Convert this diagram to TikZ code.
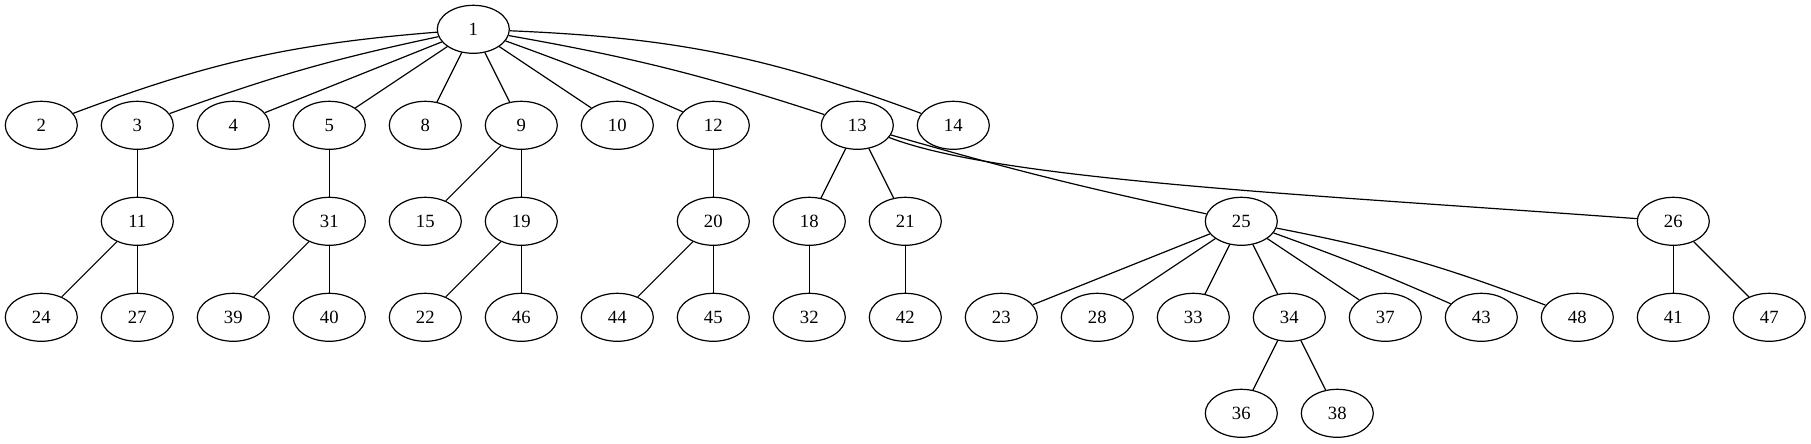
\documentclass[tikz,border=0pt]{standalone}
\usepackage{fontspec}
\setmainfont{Liberation Serif}
\usetikzlibrary{shapes.geometric}
\begin{document}
\begin{tikzpicture}[x=0.75pt,y=-0.75pt,
  vnode/.style={draw,ellipse,line width=0.9pt,minimum width=54pt,minimum height=36pt,inner sep=0pt,font=\fontsize{14}{16}\selectfont},
  edge/.style={line width=0.9pt}]
\useasboundingbox (0,0) rectangle (1811,443);
% row 1
\node[vnode] (n1) at (473.3,29.3) {1};
% row 2
\node[vnode] (n2) at (41.3,125.3) {2};
\node[vnode] (n3) at (137.3,125.3) {3};
\node[vnode] (n4) at (233.3,125.3) {4};
\node[vnode] (n5) at (329.3,125.3) {5};
\node[vnode] (n8) at (425.3,125.3) {8};
\node[vnode] (n9) at (521.3,125.3) {9};
\node[vnode] (n10) at (617.3,125.3) {10};
\node[vnode] (n12) at (713.3,125.3) {12};
\node[vnode] (n13) at (857.3,125.3) {13};
\node[vnode] (n14) at (953.3,125.3) {14};
% row 3
\node[vnode] (n11) at (137.3,221.3) {11};
\node[vnode] (n31) at (329.3,221.3) {31};
\node[vnode] (n15) at (425.3,221.3) {15};
\node[vnode] (n19) at (521.3,221.3) {19};
\node[vnode] (n20) at (713.3,221.3) {20};
\node[vnode] (n18) at (809.3,221.3) {18};
\node[vnode] (n21) at (905.3,221.3) {21};
\node[vnode] (n25) at (1241.3,221.3) {25};
\node[vnode] (n26) at (1673.3,221.3) {26};
% row 4
\node[vnode] (n24) at (41.3,317.3) {24};
\node[vnode] (n27) at (137.3,317.3) {27};
\node[vnode] (n39) at (233.3,317.3) {39};
\node[vnode] (n40) at (329.3,317.3) {40};
\node[vnode] (n22) at (425.3,317.3) {22};
\node[vnode] (n46) at (521.3,317.3) {46};
\node[vnode] (n44) at (617.3,317.3) {44};
\node[vnode] (n45) at (713.3,317.3) {45};
\node[vnode] (n32) at (809.3,317.3) {32};
\node[vnode] (n42) at (905.3,317.3) {42};
\node[vnode] (n23) at (1001.3,317.3) {23};
\node[vnode] (n28) at (1097.3,317.3) {28};
\node[vnode] (n33) at (1193.3,317.3) {33};
\node[vnode] (n34) at (1289.3,317.3) {34};
\node[vnode] (n37) at (1385.3,317.3) {37};
\node[vnode] (n43) at (1481.3,317.3) {43};
\node[vnode] (n48) at (1577.3,317.3) {48};
\node[vnode] (n41) at (1673.3,317.3) {41};
\node[vnode] (n47) at (1769.3,317.3) {47};
% row 5
\node[vnode] (n36) at (1241.3,413.3) {36};
\node[vnode] (n38) at (1337.3,413.3) {38};
% edges
\draw[edge] (n1) to[bend right=8] (n2);
\draw[edge] (n1) to[bend right=4] (n3);
\draw[edge] (n1) -- (n4);
\draw[edge] (n1) -- (n5);
\draw[edge] (n1) -- (n8);
\draw[edge] (n1) -- (n9);
\draw[edge] (n1) -- (n10);
\draw[edge] (n1) to[bend left=2] (n12);
\draw[edge] (n1) to[bend left=4] (n13);
\draw[edge] (n1) to[bend left=9] (n14);
\draw[edge] (n3) -- (n11);
\draw[edge] (n11) -- (n24);
\draw[edge] (n11) -- (n27);
\draw[edge] (n5) -- (n31);
\draw[edge] (n31) -- (n39);
\draw[edge] (n31) -- (n40);
\draw[edge] (n9) -- (n15);
\draw[edge] (n9) -- (n19);
\draw[edge] (n19) -- (n22);
\draw[edge] (n19) -- (n46);
\draw[edge] (n12) -- (n20);
\draw[edge] (n20) -- (n44);
\draw[edge] (n20) -- (n45);
\draw[edge] (n13) -- (n18);
\draw[edge] (n13) -- (n21);
\draw[edge] (n13) to[bend right=2] (n25);
\draw[edge] (n13) .. controls (1000,180) and (1300,194) .. (n26);
\draw[edge] (n18) -- (n32);
\draw[edge] (n21) -- (n42);
\draw[edge] (n25) -- (n23);
\draw[edge] (n25) -- (n28);
\draw[edge] (n25) -- (n33);
\draw[edge] (n25) -- (n34);
\draw[edge] (n25) -- (n37);
\draw[edge] (n25) to[bend left=2] (n43);
\draw[edge] (n25) to[bend left=5] (n48);
\draw[edge] (n34) -- (n36);
\draw[edge] (n34) -- (n38);
\draw[edge] (n26) -- (n41);
\draw[edge] (n26) -- (n47);
\end{tikzpicture}
\end{document}
